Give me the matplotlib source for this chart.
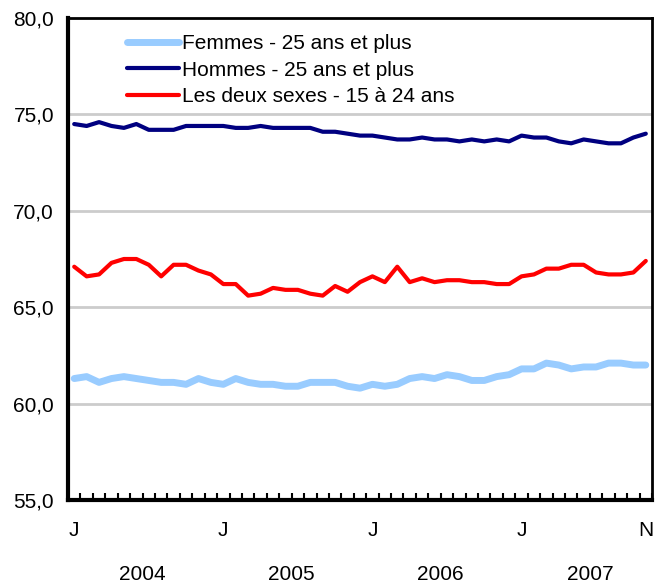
import matplotlib.pyplot as plt
from matplotlib.ticker import FixedLocator, FuncFormatter

# taux d'activité mensuel, janvier 2004 à novembre 2007
femmes_25_plus = [
    61.3, 61.4, 61.1, 61.3, 61.4, 61.3, 61.2, 61.1, 61.1, 61.0, 61.3, 61.1,
    61.0, 61.3, 61.1, 61.0, 61.0, 60.9, 60.9, 61.1, 61.1, 61.1, 60.9, 60.8,
    61.0, 60.9, 61.0, 61.3, 61.4, 61.3, 61.5, 61.4, 61.2, 61.2, 61.4, 61.5,
    61.8, 61.8, 62.1, 62.0, 61.8, 61.9, 61.9, 62.1, 62.1, 62.0, 62.0,
]
hommes_25_plus = [
    74.5, 74.4, 74.6, 74.4, 74.3, 74.5, 74.2, 74.2, 74.2, 74.4, 74.4, 74.4,
    74.4, 74.3, 74.3, 74.4, 74.3, 74.3, 74.3, 74.3, 74.1, 74.1, 74.0, 73.9,
    73.9, 73.8, 73.7, 73.7, 73.8, 73.7, 73.7, 73.6, 73.7, 73.6, 73.7, 73.6,
    73.9, 73.8, 73.8, 73.6, 73.5, 73.7, 73.6, 73.5, 73.5, 73.8, 74.0,
]
jeunes_15_24 = [
    67.1, 66.6, 66.7, 67.3, 67.5, 67.5, 67.2, 66.6, 67.2, 67.2, 66.9, 66.7,
    66.2, 66.2, 65.6, 65.7, 66.0, 65.9, 65.9, 65.7, 65.6, 66.1, 65.8, 66.3,
    66.6, 66.3, 67.1, 66.3, 66.5, 66.3, 66.4, 66.4, 66.3, 66.3, 66.2, 66.2,
    66.6, 66.7, 67.0, 67.0, 67.2, 67.2, 66.8, 66.7, 66.7, 66.8, 67.4,
]
series_labels = [
    "Femmes - 25 ans et plus",
    "Hommes - 25 ans et plus",
    "Les deux sexes - 15 à 24 ans",
]
month_labels = {0: "J", 12: "J", 24: "J", 36: "J", 46: "N"}
years = ["2004", "2005", "2006", "2007"]

plt.rcParams["font.family"] = ["Liberation Sans", "DejaVu Sans"]
fs = 15

fig = plt.figure(figsize=(6.55, 5.86), dpi=100)
ax = fig.add_axes([68 / 655, 1 - 500 / 586, 584 / 655, 482 / 586])

months = list(range(len(femmes_25_plus)))
ax.plot(months, femmes_25_plus, color="#99ccff", lw=5, label=series_labels[0],
        solid_capstyle="round", solid_joinstyle="round")
ax.plot(months, hommes_25_plus, color="#000080", lw=3, label=series_labels[1],
        solid_capstyle="round", solid_joinstyle="round")
ax.plot(months, jeunes_15_24, color="#ff0000", lw=3, label=series_labels[2],
        solid_capstyle="round", solid_joinstyle="round")

ax.set_xlim(-0.5, len(months) - 0.5)
ax.set_ylim(55, 80)
ax.set_yticks([55, 60, 65, 70, 75, 80])
ax.yaxis.set_major_formatter(FuncFormatter(lambda v, p: f"{v:.1f}".replace(".", ",")))
ax.tick_params(axis="y", length=0, pad=10, labelsize=fs)
for v in [60, 65, 70, 75]:
    ax.axhline(v, color="#cccccc", lw=2, zorder=0)

# libellés des mois et petites graduations entre les mois
ax.set_xticks(list(month_labels.keys()))
ax.set_xticklabels(list(month_labels.values()))
ax.tick_params(axis="x", length=0, pad=15, labelsize=fs)
ax.xaxis.set_minor_locator(FixedLocator([k - 0.5 for k in range(len(months) + 1)]))
ax.tick_params(axis="x", which="minor", direction="in", length=5, width=1.5)

for i, y in enumerate(years):
    ax.text(i * 12 + 5.5, -0.155, y, transform=ax.get_xaxis_transform(),
            ha="center", va="center", fontsize=fs)

for side in ["left", "bottom", "top", "right"]:
    ax.spines[side].set_linewidth(2)
ax.spines["left"].set_linewidth(3)
ax.spines["bottom"].set_linewidth(3)

ax.legend(loc="upper left", bbox_to_anchor=(0.101, 0.967), frameon=False,
          fontsize=fs, handlelength=2.5, handletextpad=0.15, labelspacing=0.37,
          borderaxespad=0, borderpad=0)

plt.savefig("out.png", dpi=100)
